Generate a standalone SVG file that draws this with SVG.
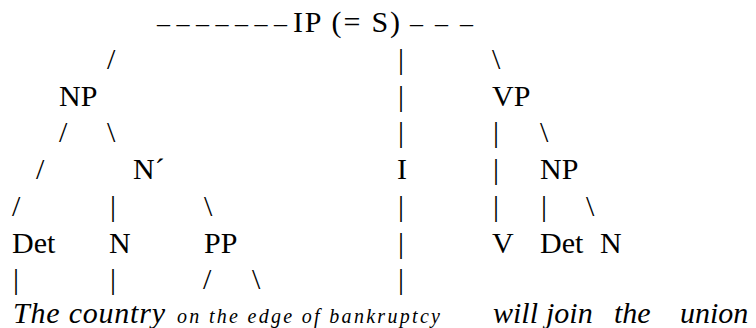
<svg xmlns="http://www.w3.org/2000/svg" width="756" height="328" viewBox="0 0 756 328">
<style>
.c{font-family:"Liberation Serif",serif;font-size:30px}
.d{font-family:"Liberation Serif",serif;font-size:26px}
.n{font-family:"Liberation Serif",serif;font-size:30px}
.w{font-family:"Liberation Serif",serif;font-size:30px;font-style:italic}
.s{font-family:"Liberation Serif",serif;font-size:20px;font-style:italic}
</style>
<rect width="756" height="328" fill="#fff"/>
<g id="connectors" fill="#000">
<text class="d" font-family="Liberation Serif" x="157" y="32" textLength="130" lengthAdjust="spacing">&#8211; &#8211; &#8211; &#8211; &#8211; &#8211; &#8211;</text>
<text class="d" font-family="Liberation Serif" x="410" y="32" textLength="63" lengthAdjust="spacing">&#8211; &#8211; &#8211;</text>
<text class="c" font-family="Liberation Serif" x="107" y="68.75">/</text>
<text class="c" font-family="Liberation Serif" x="398" y="68.75">|</text>
<text class="c" font-family="Liberation Serif" x="492" y="68.75">\</text>
<text class="c" font-family="Liberation Serif" x="398" y="105.5">|</text>
<text class="c" font-family="Liberation Serif" x="59" y="142.25">/</text>
<text class="c" font-family="Liberation Serif" x="107" y="142.25">\</text>
<text class="c" font-family="Liberation Serif" x="398" y="142.25">|</text>
<text class="c" font-family="Liberation Serif" x="493" y="142.25">|</text>
<text class="c" font-family="Liberation Serif" x="540" y="142.25">\</text>
<text class="c" font-family="Liberation Serif" x="36" y="179">/</text>
<text class="c" font-family="Liberation Serif" x="493" y="179">|</text>
<text class="c" font-family="Liberation Serif" x="12" y="215.75">/</text>
<text class="c" font-family="Liberation Serif" x="110" y="215.75">|</text>
<text class="c" font-family="Liberation Serif" x="204" y="215.75">\</text>
<text class="c" font-family="Liberation Serif" x="398" y="215.75">|</text>
<text class="c" font-family="Liberation Serif" x="493" y="215.75">|</text>
<text class="c" font-family="Liberation Serif" x="541" y="215.75">|</text>
<text class="c" font-family="Liberation Serif" x="586" y="215.75">\</text>
<text class="c" font-family="Liberation Serif" x="398" y="252.5">|</text>
<text class="c" font-family="Liberation Serif" x="13" y="289.25">|</text>
<text class="c" font-family="Liberation Serif" x="110" y="289.25">|</text>
<text class="c" font-family="Liberation Serif" x="203" y="289.25">/</text>
<text class="c" font-family="Liberation Serif" x="252" y="289.25">\</text>
<text class="c" font-family="Liberation Serif" x="398" y="289.25">|</text>
</g>
<g id="node-IP"><text class="n" font-family="Liberation Serif" x="293" y="32" textLength="107" lengthAdjust="spacing">IP (= S)</text></g>
<g id="node-NP"><text class="n" font-family="Liberation Serif" x="59" y="105.5">NP</text></g>
<g id="node-VP"><text class="n" font-family="Liberation Serif" x="492" y="105.5">VP</text></g>
<g id="node-Nbar"><text class="n" font-family="Liberation Serif" x="133" y="179">N&#180;</text></g>
<g id="node-I"><text class="n" font-family="Liberation Serif" x="397" y="179">I</text></g>
<g id="node-NP2"><text class="n" font-family="Liberation Serif" x="540" y="179">NP</text></g>
<g id="node-Det"><text class="n" font-family="Liberation Serif" x="12" y="252.5">Det</text></g>
<g id="node-N"><text class="n" font-family="Liberation Serif" x="109" y="252.5">N</text></g>
<g id="node-PP"><text class="n" font-family="Liberation Serif" x="204" y="252.5">PP</text></g>
<g id="node-V"><text class="n" font-family="Liberation Serif" x="492" y="252.5">V</text></g>
<g id="node-Det2"><text class="n" font-family="Liberation Serif" x="540" y="252.5">Det</text></g>
<g id="node-N2"><text class="n" font-family="Liberation Serif" x="600" y="252.5">N</text></g>
<g id="leaf-thecountry"><text class="w" font-family="Liberation Serif" x="13" y="323" textLength="152" lengthAdjust="spacing">The country</text></g>
<g id="leaf-pp"><text class="s" font-family="Liberation Serif" x="177" y="323" textLength="263" lengthAdjust="spacing">on the edge of bankruptcy</text></g>
<g id="leaf-will"><text class="w" font-family="Liberation Serif" x="493" y="323">will</text></g>
<g id="leaf-join"><text class="w" font-family="Liberation Serif" x="546" y="323">join</text></g>
<g id="leaf-the"><text class="w" font-family="Liberation Serif" x="614" y="323">the</text></g>
<g id="leaf-union"><text class="w" font-family="Liberation Serif" x="680" y="323">union</text></g>
</svg>
